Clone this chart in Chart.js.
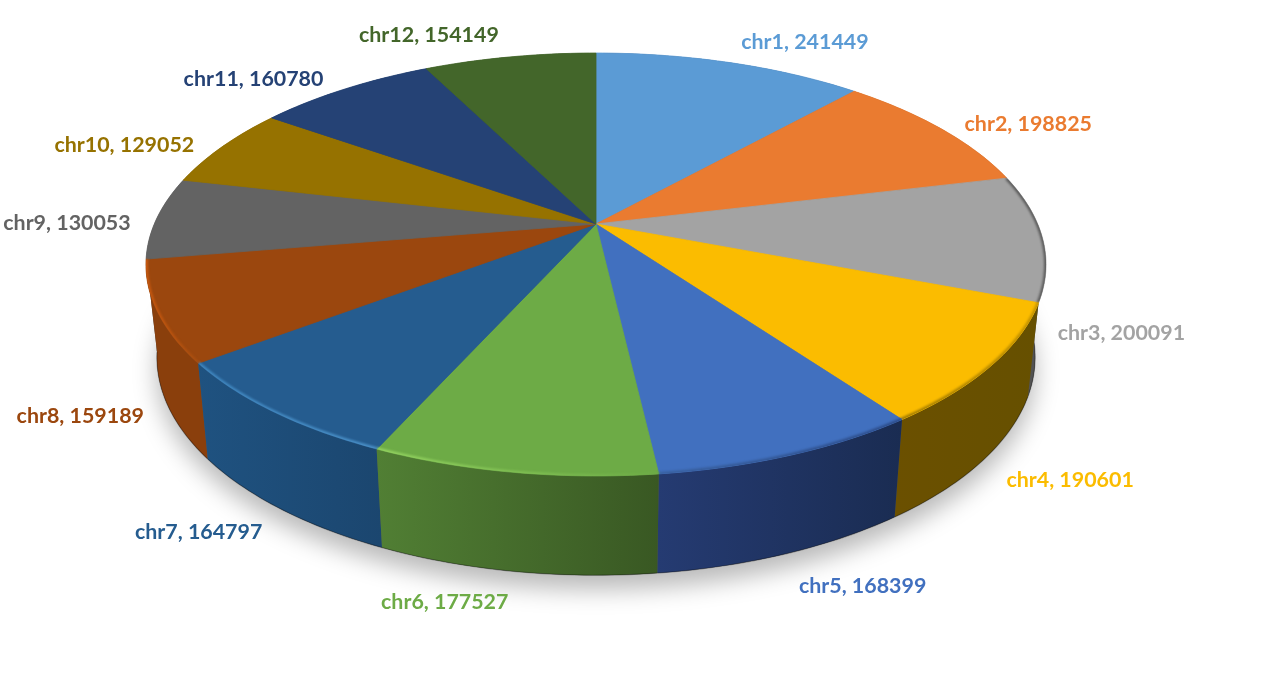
<!DOCTYPE html>
<html>
<head>
<meta charset="utf-8">
<title>chr counts</title>
<script src="https://cdn.jsdelivr.net/npm/chart.js@4"></script>
<style>
    html, body { margin: 0; padding: 0; background: #fff; }
    canvas { display: block; }
</style>
</head>
<body>
<canvas id="pieChart" width="1274" height="673"></canvas>
<script>
// Chart data
const categories = ['chr1', 'chr2', 'chr3', 'chr4', 'chr5', 'chr6', 'chr7', 'chr8', 'chr9', 'chr10', 'chr11', 'chr12'];
const counts = [241449, 198825, 200091, 190601, 168399, 177527, 164797, 159189, 130053, 129052, 160780, 154149];

// Styles per slice
const topColors = ['#5b9bd5', '#ea7b30', '#a3a3a3', '#fbbc00', '#4170bf', '#6dab46', '#255c8f', '#9b470e', '#636363', '#967200', '#254275', '#43662a'];
const wallLeft = ['#374f66', '#8a4a1d', '#5a5a5a', '#6b5000', '#253b72', '#517f34', '#1f5280', '#8a3f0c', '#4a4a4a', '#5c4500', '#16294a', '#2a4019'];
const wallRight = ['#374f66', '#8a4a1d', '#4f4f4f', '#665000', '#1a2c52', '#395823', '#1b466f', '#8a3f0c', '#4a4a4a', '#5c4500', '#16294a', '#2a4019'];
const rimLeft = [null, null, '#5c5c5c', '#a07a00', '#38609f', '#93d360', '#3f86bf', '#c9590f', null, null, null, null];
const rimRight = [null, null, '#5c5c5c', '#c49300', '#2c4c8a', '#6dab46', '#4a90c8', '#a84d0f', null, null, null, null];

// Label position relative to the slice's outer edge
const labelOffsets = [[75, -21], [87, -5], [79, 96], [78, 115], [72, 131], [-68, 130], [-74, 121], [-77, 105], [-90, 5], [-98, -2], [-91, -10], [-81, -22]];

// Perspective of the tilted disc: top face and bottom face
const PERSPECTIVE = 0.1915;
const CENTER_X = 596;
const topFace = { cy: 224, a: 441.7, b: 203.7 };
const bottomFace = { cy: 315.5, a: 431, b: 210 };

function project(angle, face) {
    const u = Math.cos(angle);
    const v = Math.sin(angle);
    const d = 1 - PERSPECTIVE * v;
    return { x: CENTER_X + face.a * u / d, y: face.cy + face.b * v / d };
}

function arcPoints(start, end, face) {
    const steps = Math.max(2, Math.ceil((end - start) / (Math.PI / 180)));
    const points = [];
    for (let i = 0; i <= steps; i++) {
        points.push(project(start + (end - start) * i / steps, face));
    }
    return points;
}

function tracePoints(ctx, points, moveFirst) {
    points.forEach((p, i) => {
        if (i === 0 && moveFirst) ctx.moveTo(p.x, p.y);
        else ctx.lineTo(p.x, p.y);
    });
}

function horizontalGradient(ctx, points, leftColor, rightColor) {
    const xs = points.map(p => p.x);
    const gradient = ctx.createLinearGradient(Math.min(...xs), 0, Math.max(...xs), 0);
    gradient.addColorStop(0, leftColor);
    gradient.addColorStop(1, rightColor);
    return gradient;
}

// Arc elements keep the angles Chart.js worked out, only the drawing is tilted
const tiltedPie = {
    id: 'tiltedPie',
    beforeDatasetsDraw(chart) {
        const ctx = chart.ctx;
        const arcs = chart.getDatasetMeta(0).data;
        const fullBottom = arcPoints(0, Math.PI * 2, bottomFace);
        const fullTop = arcPoints(0, Math.PI * 2, topFace);

        // Soft shadow under the disc
        ctx.save();
        ctx.shadowColor = 'rgba(0, 0, 0, 0.28)';
        ctx.shadowBlur = 24;
        ctx.shadowOffsetY = 14;
        ctx.fillStyle = '#555';
        ctx.beginPath();
        tracePoints(ctx, fullBottom, true);
        ctx.closePath();
        ctx.fill();
        ctx.restore();

        // Walls, back to front
        const order = arcs.map((arc, i) => i).sort((a, b) =>
            Math.sin((arcs[a].startAngle + arcs[a].endAngle) / 2) - Math.sin((arcs[b].startAngle + arcs[b].endAngle) / 2));
        order.forEach(i => {
            const arc = arcs[i];
            const top = arcPoints(arc.startAngle, arc.endAngle, topFace);
            const bottom = arcPoints(arc.startAngle, arc.endAngle, bottomFace);
            ctx.fillStyle = horizontalGradient(ctx, top.concat(bottom), wallLeft[i], wallRight[i]);
            ctx.beginPath();
            tracePoints(ctx, top, true);
            tracePoints(ctx, bottom.slice().reverse(), false);
            ctx.closePath();
            ctx.fill();
            ctx.strokeStyle = 'rgba(0, 0, 0, 0.3)';
            ctx.lineWidth = 1.2;
            ctx.beginPath();
            tracePoints(ctx, bottom, true);
            ctx.stroke();
        });

        // Top face, stroked in its own colour so no seams show between slices
        arcs.forEach(arc => {
            ctx.fillStyle = arc.options.backgroundColor;
            ctx.strokeStyle = arc.options.backgroundColor;
            ctx.lineWidth = 0.8;
            ctx.lineJoin = 'round';
            ctx.beginPath();
            ctx.moveTo(CENTER_X, topFace.cy);
            tracePoints(ctx, arcPoints(arc.startAngle, arc.endAngle, topFace), false);
            ctx.closePath();
            ctx.fill();
            ctx.stroke();
        });

        // Bevel along the front edge, kept inside the top face
        ctx.save();
        ctx.beginPath();
        tracePoints(ctx, fullTop, true);
        ctx.closePath();
        ctx.clip();
        ctx.filter = 'blur(1px)';
        ctx.lineWidth = 4;
        ctx.lineCap = 'butt';
        arcs.forEach((arc, i) => {
            if (!rimLeft[i]) return;
            const rim = arcPoints(arc.startAngle, arc.endAngle, topFace);
            ctx.strokeStyle = horizontalGradient(ctx, rim, rimLeft[i], rimRight[i]);
            ctx.beginPath();
            tracePoints(ctx, rim, true);
            ctx.stroke();
        });
        ctx.restore();

        return false;
    },
    // beforeDatasetsDraw cancels afterDatasetsDraw, so labels go here
    afterDraw(chart) {
        const ctx = chart.ctx;
        const arcs = chart.getDatasetMeta(0).data;
        ctx.save();
        ctx.font = 'bold 21.4px Lato';
        ctx.textAlign = 'center';
        ctx.textBaseline = 'middle';
        arcs.forEach((arc, i) => {
            const edge = project((arc.startAngle + arc.endAngle) / 2, topFace);
            ctx.fillStyle = topColors[i];
            ctx.fillText(categories[i] + ', ' + counts[i], edge.x + labelOffsets[i][0], edge.y + labelOffsets[i][1]);
        });
        ctx.restore();
    }
};

new Chart(document.getElementById('pieChart').getContext('2d'), {
    type: 'pie',
    data: {
        labels: categories,
        datasets: [{
            data: counts,
            backgroundColor: topColors,
            borderWidth: 0
        }]
    },
    options: {
        responsive: false,
        animation: false,
        plugins: {
            legend: { display: false },
            tooltip: { enabled: false }
        }
    },
    plugins: [tiltedPie]
});
</script>
</body>
</html>
